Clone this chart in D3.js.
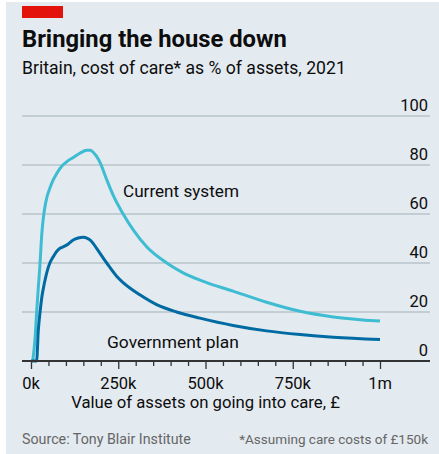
<!DOCTYPE html>
<html>
<head>
<meta charset="utf-8">
<script src="https://cdn.jsdelivr.net/npm/d3@7"></script>
<style>
  body { margin: 0; background: #ffffff; }
  text { font-family: Roboto, "Noto Sans", sans-serif; }
</style>
</head>
<body>
<svg id="plot" width="439" height="454"></svg>
<script>
const svg = d3.select('#plot');

const width = parseFloat(svg.attr('width'));
const height = parseFloat(svg.attr('height'));

// Data (assets in £k, cost as % of assets)
const currentAssets = [5, 12, 16, 21, 26, 30, 35, 40, 45, 54, 64, 74, 88, 102, 120, 140, 160, 170, 178, 188, 198, 217, 236, 264, 293, 332, 389, 436, 484, 579, 675, 771, 866, 1000];
const currentCost   = [0, 10, 19.6, 30, 40, 50, 58, 63, 66.5, 70.5, 74, 76.6, 79.5, 81.3, 83, 84.8, 86, 86, 85.2, 83.5, 81, 74, 67.5, 60, 53.5, 46.5, 40, 36, 33, 28.5, 24, 20.3, 18, 16.3];

const govAssets = [0, 16, 21, 26, 31, 38, 45, 54, 64, 74, 83, 92, 102, 121, 135, 150, 160, 169, 178, 188, 217, 246, 264, 312, 360, 417, 484, 579, 675, 771, 866, 1000];
const govCost   = [0, 0, 12.6, 20, 26, 31.5, 36, 40, 42.6, 44.8, 46, 46.6, 47.3, 49.4, 50.2, 50.5, 50.2, 49.4, 48, 46, 40, 34.5, 32, 27, 23, 20, 17.5, 14.5, 12.3, 10.8, 9.7, 8.8];

const yTicks = [0, 20, 40, 60, 80, 100];
const xTicks = [0, 250, 500, 750, 1000];
const xTickLabels = ['0k', '250k', '500k', '750k', '1m'];

const title = 'Bringing the house down';
const subtitle = 'Britain, cost of care* as % of assets, 2021';
const xLabel = 'Value of assets on going into care, £';
const source = 'Source: Tony Blair Institute';
const note = '*Assuming care costs of £150k';

// scale a text's font size so it spans the width seen in the reference
const fitText = (sel, target) => {
    const size = parseFloat(sel.attr('font-size'));
    const w = sel.node().getComputedTextLength();
    sel.attr('font-size', (size * target / w).toFixed(2) + 'px');
    return sel;
};

const render = () => {
    const bg = '#e3eaf0';
    const ink = '#0d0d0d';
    const gridLeft = 22, gridRight = 430;

    svg.append('rect')
        .attr('x', 6).attr('y', 2)
        .attr('width', width - 6).attr('height', height - 2)
        .attr('fill', bg);

    svg.append('rect')
        .attr('x', 22).attr('y', 6)
        .attr('width', 41).attr('height', 12)
        .attr('fill', '#e3120b');

    fitText(svg.append('text')
        .attr('x', 22).attr('y', 47)
        .attr('font-size', '21px')
        .attr('font-weight', 'bold')
        .attr('fill', ink)
        .text(title), 265);

    fitText(svg.append('text')
        .attr('x', 22).attr('y', 74)
        .attr('font-size', '17px')
        .attr('fill', ink)
        .text(subtitle), 324);

    const xScale = d3.scaleLinear()
        .domain([0, 1000])
        .range([31, 380]);

    const yScale = d3.scaleLinear()
        .domain([0, 100])
        .range([361, 116]);

    // gridlines + right labels
    const grid = svg.append('g');
    grid.selectAll('line').data(yTicks.filter(d => d > 0))
        .enter().append('line')
            .attr('x1', gridLeft).attr('x2', gridRight)
            .attr('y1', d => yScale(d)).attr('y2', d => yScale(d))
            .attr('stroke', '#b9c3cb')
            .attr('stroke-width', 1.3);

    grid.selectAll('text').data(yTicks)
        .enter().append('text')
            .attr('x', 428)
            .attr('y', d => yScale(d) - 5)
            .attr('text-anchor', 'end')
            .attr('font-size', '16.5px')
            .attr('fill', ink)
            .text(d => d);

    // x axis
    const xAxis = d3.axisBottom(xScale)
        .tickValues(d3.range(0, 1001, 50))
        .tickSize(5)
        .tickFormat('');

    const xAxisG = svg.append('g')
        .attr('transform', `translate(0, ${yScale(0)})`)
        .call(xAxis);
    xAxisG.selectAll('.domain').remove();
    xAxisG.selectAll('.tick line')
        .attr('stroke', '#333')
        .attr('stroke-width', 1.3)
        .attr('y2', d => d % 250 === 0 ? 8 : 5);

    xAxisG.selectAll('.label').data(xTicks)
        .enter().append('text')
            .attr('class', 'label')
            .attr('x', d => xScale(d))
            .attr('y', 28)
            .attr('text-anchor', 'middle')
            .attr('font-size', '16.5px')
            .attr('fill', ink)
            .text((d, i) => xTickLabels[i]);

    fitText(svg.append('text')
        .attr('x', 205.5)
        .attr('y', 408)
        .attr('text-anchor', 'middle')
        .attr('font-size', '16px')
        .attr('fill', ink)
        .text(xLabel), 269);

    const lineGenerator = d3.line()
        .x(d => xScale(d[0]))
        .y(d => yScale(d[1]))
        .curve(d3.curveMonotoneX);

    svg.append('path')
        .attr('d', lineGenerator(d3.zip(currentAssets, currentCost)))
        .attr('fill', 'none')
        .attr('stroke', '#3ebcd2')
        .attr('stroke-width', 3)
        .attr('stroke-linejoin', 'round');

    svg.append('path')
        .attr('d', lineGenerator(d3.zip(govAssets, govCost)))
        .attr('fill', 'none')
        .attr('stroke', '#006ba2')
        .attr('stroke-width', 3)
        .attr('stroke-linejoin', 'round');

    // baseline drawn over the lines
    svg.append('line')
        .attr('x1', gridLeft).attr('x2', gridRight)
        .attr('y1', yScale(0)).attr('y2', yScale(0))
        .attr('stroke', '#333')
        .attr('stroke-width', 2);

    fitText(svg.append('text')
        .attr('x', 123).attr('y', 197)
        .attr('font-size', '16px')
        .attr('fill', ink)
        .text('Current system'), 116);

    fitText(svg.append('text')
        .attr('x', 107).attr('y', 348)
        .attr('font-size', '16px')
        .attr('fill', ink)
        .text('Government plan'), 132);

    fitText(svg.append('text')
        .attr('x', 22).attr('y', 444)
        .attr('font-size', '14px')
        .attr('fill', '#666')
        .text(source), 169);

    fitText(svg.append('text')
        .attr('x', 428).attr('y', 444)
        .attr('text-anchor', 'end')
        .attr('font-size', '14px')
        .attr('fill', '#666')
        .text(note), 189);
};

render();
</script>
</body>
</html>
